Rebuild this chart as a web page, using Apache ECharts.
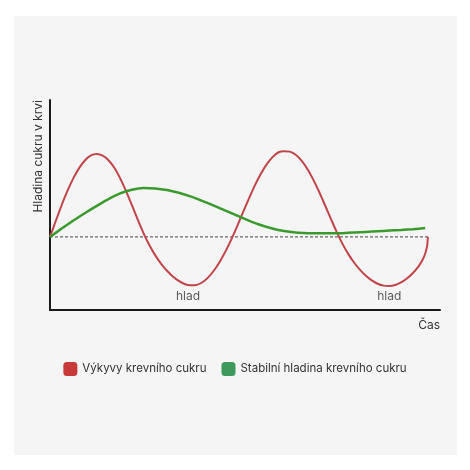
<!DOCTYPE html>
<html>
<head>
<meta charset="utf-8">
<script src="https://cdn.jsdelivr.net/npm/echarts@6/dist/echarts.min.js"></script>
<style>html,body{margin:0;padding:0;background:#fff;}#c{width:470px;height:470px;}</style>
</head>
<body>
<div id="c"></div>
<script>
// Data (x = time units 0..100, y = blood sugar level 0..100)
const seriesNames = ['Výkyvy krevního cukru', 'Stabilní hladina krevního cukru'];
const fluctX = [0, 1.5, 3, 4.5, 6, 7.5, 9, 10.5, 12, 13.5, 15, 16.5, 18, 19.5, 21, 22.5, 24, 25.5, 27, 28.5, 30, 31.5, 33, 34.5, 36, 37.5, 39, 40.5, 42, 43.5, 45, 46.5, 48, 49.5, 51, 52.5, 54, 55.5, 57, 58.5, 60, 61.5, 63, 64.5, 66, 67.5, 69, 70.5, 72, 73.5, 75, 76.5, 78, 79.5, 81, 82.5, 84, 85.5, 87, 88.5, 90, 91.5, 93, 94.5, 95.5, 96.2, 96.7, 96.9];
const fluctY = [34.8, 42.5, 50.0, 56.8, 62.8, 67.7, 71.3, 73.6, 74.3, 73.5, 71.3, 67.7, 62.7, 56.6, 49.9, 43.0, 36.5, 30.8, 26.0, 22.0, 18.7, 16.0, 13.9, 12.4, 11.8, 11.9, 13.1, 15.4, 18.7, 22.9, 27.9, 33.6, 39.9, 46.6, 53.0, 59.2, 64.6, 69.2, 72.7, 75.0, 75.6, 75.4, 73.9, 71.1, 67.1, 62.1, 56.3, 50.0, 43.5, 37.2, 31.5, 26.6, 22.5, 19.1, 16.3, 14.1, 12.5, 11.6, 11.4, 11.9, 13.1, 15.0, 17.5, 20.8, 23.8, 26.8, 30.5, 34.8];
const stableX = [0, 3, 6, 9, 12, 15, 18, 21, 24, 27, 30, 33, 36, 39, 42, 45, 48, 51, 54, 57, 60, 63, 66, 69, 72, 75, 78, 81, 84, 87, 90, 93, 96.2];
const stableY = [34.8, 38.8, 42.6, 46.2, 49.6, 52.8, 55.5, 57.3, 58.1, 57.9, 57.1, 55.8, 54.1, 52.0, 49.7, 47.3, 44.9, 42.6, 40.5, 38.8, 37.6, 36.9, 36.6, 36.5, 36.5, 36.6, 36.9, 37.2, 37.5, 37.8, 38.1, 38.5, 39.0];
const baselineX = [0, 97.4];
const baselineY = [34.8, 34.8];
const annotationText = ['hlad', 'hlad'];
const annotationX = [35.4, 87.0];
const annotationY = [6.7, 6.7];
const xAxisName = 'Čas';
const yAxisName = 'Hladina cukru v krvi';

const zip = (a, b) => a.map((v, i) => [v, b[i]]);
const chart = echarts.init(document.getElementById('c'), null, {renderer: 'canvas'});
const font = 'Inter, "Noto Sans", sans-serif';
chart.setOption({
  backgroundColor: '#ffffff',
  animation: false,
  textStyle: {fontFamily: font},
  graphic: [
    {type: 'rect', z: -10, shape: {x: 14, y: 16, width: 443, height: 439}, style: {fill: '#f5f5f5'}},
    {type: 'text', rotation: Math.PI / 2, x: 32, y: 100, style: {text: yAxisName, fill: '#333', font: '12px ' + font, align: 'right', verticalAlign: 'top'}}
  ],
  grid: {left: 50, right: 30, top: 100, bottom: 160},
  legend: {
    data: seriesNames,
    top: 357, left: 'center',
    icon: 'roundRect', itemWidth: 14, itemHeight: 14, itemGap: 15,
    textStyle: {fontSize: 11.5, color: '#333', fontFamily: font}
  },
  xAxis: {
    type: 'value', min: 0, max: 100,
    name: xAxisName, nameLocation: 'end', nameGap: 0,
    nameTextStyle: {align: 'right', verticalAlign: 'top', padding: [9, 0, 0, 0], fontSize: 12, color: '#333'},
    axisLine: {show: true, lineStyle: {color: '#1a1a1a', width: 2}},
    axisTick: {show: false}, axisLabel: {show: false}, splitLine: {show: false}
  },
  yAxis: {
    type: 'value', min: 0, max: 100,
    axisLine: {show: true, lineStyle: {color: '#1a1a1a', width: 2}},
    axisTick: {show: false}, axisLabel: {show: false}, splitLine: {show: false}
  },
  series: [
    {name: seriesNames[0], type: 'line', smooth: 0.15, showSymbol: false, symbol: 'none',
     data: zip(fluctX, fluctY), color: '#c83a3a', lineStyle: {color: '#c0454a', width: 2}, z: 3},
    {name: seriesNames[1], type: 'line', smooth: 0.15, showSymbol: false, symbol: 'none',
     data: zip(stableX, stableY), color: '#3e9a5c', lineStyle: {color: '#3a9a2e', width: 2.5}, z: 4},
    {name: 'baseline', type: 'line', symbol: 'none', data: zip(baselineX, baselineY),
     lineStyle: {color: '#444', width: 1, type: [3, 2]}, z: 2},
    {name: 'annotations', type: 'scatter', symbolSize: 0,
     data: annotationX.map((x, i) => ({value: [x, annotationY[i]], label: {show: true, formatter: annotationText[i], position: 'inside', fontSize: 12, color: '#333', fontFamily: font}}))}
  ]
});
</script>
</body>
</html>
